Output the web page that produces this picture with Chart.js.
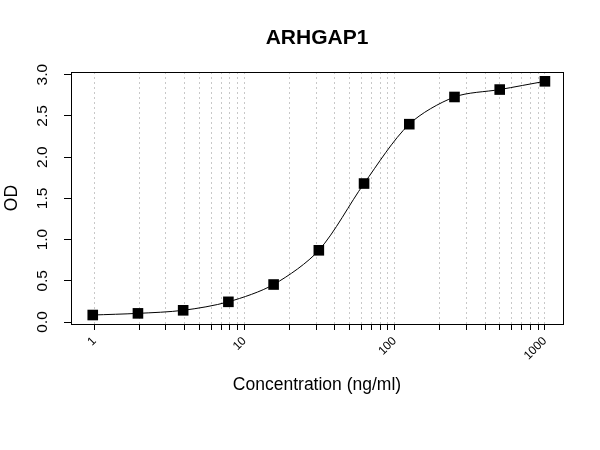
<!DOCTYPE html>
<html>
<head>
<meta charset="utf-8">
<script src="https://cdn.jsdelivr.net/npm/chart.js@4/dist/chart.umd.min.js"></script>
<style>
  html, body { margin: 0; padding: 0; background: #fff; }
  #wrap { width: 600px; height: 450px; }
</style>
</head>
<body>
<div id="wrap"><canvas id="chart" width="600" height="450"></canvas></div>
<script>
// standard curve, ARHGAP1
const concentrations = [0.977, 1.953, 3.906, 7.813, 15.625, 31.25, 62.5, 125, 250, 500, 1000];
const odValues = [0.085, 0.105, 0.142, 0.245, 0.455, 0.87, 1.68, 2.40, 2.73, 2.82, 2.92];
const xLabelTicks = [1, 10, 100, 1000];
const xMinorTicks = [1, 2, 3, 4, 5, 6, 7, 8, 9, 10, 20, 30, 40, 50, 60, 70, 80, 90,
  100, 200, 300, 400, 500, 600, 700, 800, 900, 1000];
const yTicks = [0, 0.5, 1, 1.5, 2, 2.5, 3];

const FONT = "'Liberation Sans', Arial, Helvetica, sans-serif";

// R-style frame + titles, drawn after Chart.js is done
const frame = {
  id: "frame",
  afterDraw(chart) {
    const { ctx, chartArea: a } = chart;
    ctx.save();
    ctx.strokeStyle = "#000";
    ctx.lineWidth = 1;
    ctx.strokeRect(a.left + 0.5, a.top + 0.5, a.right - a.left, a.bottom - a.top);

    ctx.fillStyle = "#000";
    ctx.textAlign = "center";
    ctx.textBaseline = "middle";
    ctx.font = "bold 21px " + FONT;
    ctx.fillText("ARHGAP1", (a.left + a.right) / 2, 38);

    ctx.font = "17.5px " + FONT;
    ctx.fillText("Concentration (ng/ml)", (a.left + a.right) / 2, 385);

    ctx.translate(12, (a.top + a.bottom) / 2);
    ctx.rotate(-Math.PI / 2);
    ctx.fillText("OD", 0, 0);
    ctx.restore();
  },
};

new Chart(document.getElementById("chart"), {
  type: "scatter",
  data: {
    datasets: [
      {
        data: concentrations.map((c, i) => ({ x: c, y: odValues[i] })),
        showLine: true,
        tension: 0.3,
        borderColor: "#000",
        borderWidth: 1,
        backgroundColor: "#000",
        pointStyle: "rect",
        pointRadius: 7.5,
        pointBorderWidth: 0,
      },
    ],
  },
  options: {
    responsive: false,
    animation: false,
    devicePixelRatio: 1,
    layout: { padding: { top: 72, right: 37, left: 0, bottom: 0 } },
    plugins: {
      legend: { display: false },
      tooltip: { enabled: false },
    },
    scales: {
      x: {
        type: "logarithmic",
        min: 0.7405,
        max: 1319,
        afterBuildTicks: (s) => { s.ticks = xMinorTicks.map((v) => ({ value: v })); },
        afterFit: (s) => { s.height = 126; },
        border: { display: false, dash: [2, 3] },
        grid: {
          color: "#c8c8c8",
          lineWidth: 1,
          drawTicks: true,
          tickLength: 6,
          tickColor: "#000",
          tickBorderDash: [],
        },
        ticks: {
          autoSkip: false,
          minRotation: 45,
          maxRotation: 45,
          padding: 4,
          color: "#000",
          font: { family: FONT, size: 12 },
          callback: (v) => (xLabelTicks.includes(v) ? String(v) : ""),
        },
      },
      y: {
        min: -0.024,
        max: 3.033,
        afterBuildTicks: (s) => { s.ticks = yTicks.map((v) => ({ value: v })); },
        afterFit: (s) => { s.width = 71; },
        border: { display: false },
        grid: {
          drawOnChartArea: false,
          drawTicks: true,
          tickLength: 7,
          tickColor: "#000",
        },
        ticks: {
          minRotation: 90,
          maxRotation: 90,
          crossAlign: "center",
          padding: 11,
          color: "#000",
          font: { family: FONT, size: 15.5 },
          callback: (v) => v.toFixed(1),
        },
      },
    },
  },
  plugins: [frame],
});
</script>
</body>
</html>
